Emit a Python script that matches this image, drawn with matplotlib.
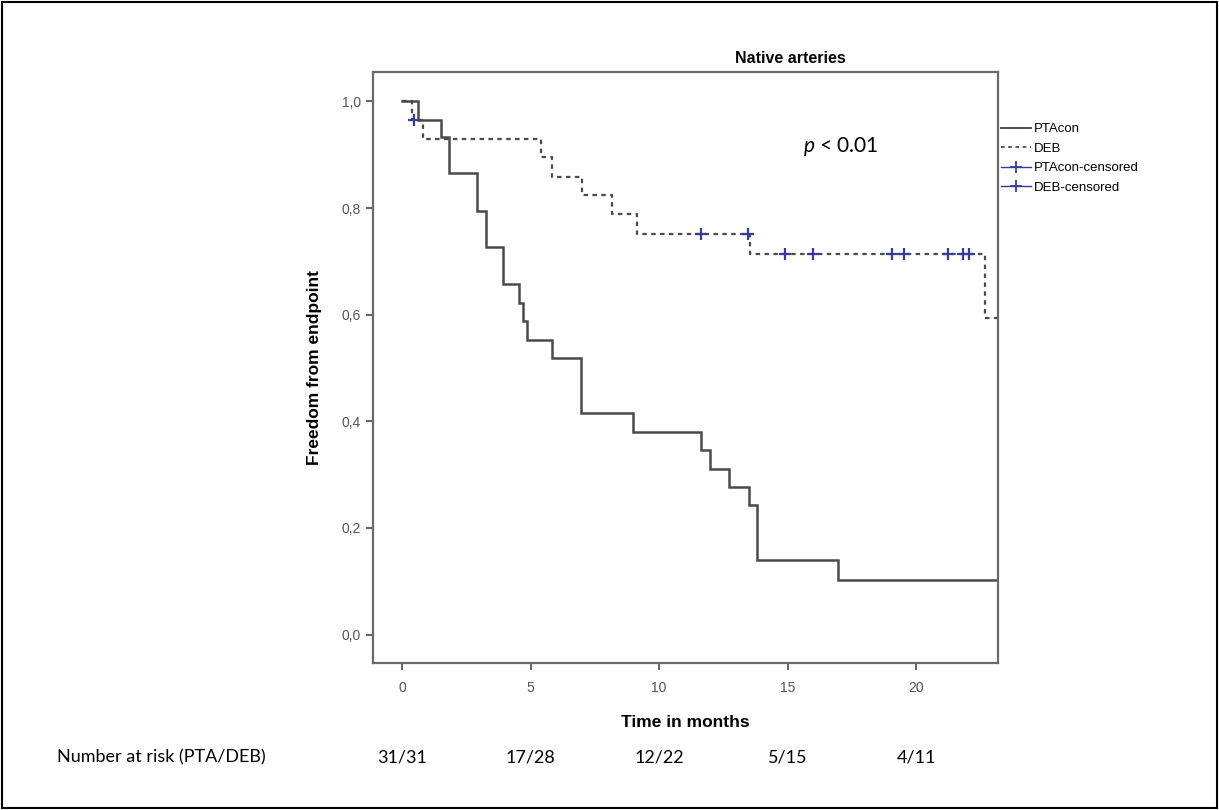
import numpy as np
import matplotlib
matplotlib.use("Agg")
import matplotlib.pyplot as plt
from matplotlib.lines import Line2D
from matplotlib.patches import Rectangle
from matplotlib.transforms import blended_transform_factory

# event times (months) and survival right after each drop
pta_t = [0.62, 1.52, 1.83, 2.93, 3.27, 3.94, 4.55, 4.72, 4.85, 5.82, 6.95, 9.0,
         11.63, 12.0, 12.72, 13.5, 13.8, 16.98]
pta_s = [0.966, 0.933, 0.866, 0.794, 0.727, 0.657, 0.622, 0.588, 0.553, 0.519,
         0.415, 0.380, 0.347, 0.311, 0.277, 0.243, 0.139, 0.103]

deb_t = [0.40, 0.83, 5.41, 5.82, 7.02, 8.18, 9.16, 13.54, 22.68]
deb_s = [0.966, 0.930, 0.896, 0.859, 0.824, 0.788, 0.752, 0.713, 0.593]
deb_cens = [0.45, 11.62, 13.44, 14.9, 16.0, 19.08, 19.51, 21.26, 21.84, 22.07]

risk_months = [0, 5, 10, 15, 20]
risk_labels = ["31/31", "17/28", "12/22", "5/15", "4/11"]

x_end = 23.2

plt.rcParams['font.family'] = ['Liberation Sans', 'DejaVu Sans']
plt.rcParams['mathtext.fontset'] = 'custom'
plt.rcParams['mathtext.it'] = 'Lato:italic'
plt.rcParams['mathtext.rm'] = 'Lato'


def km_steps(t, s, end):
    xs = [0.0]
    ys = [1.0]
    for ti, si in zip(t, s):
        xs.append(ti)
        ys.append(si)
    xs.append(end)
    ys.append(ys[-1])
    return xs, ys


def km_value(t, s, x):
    v = 1.0
    for ti, si in zip(t, s):
        if x >= ti:
            v = si
    return v


fig = plt.figure(figsize=(12.19, 8.10), dpi=100)
ax = fig.add_axes([0.306, 0.181, 0.513, 0.730])

line_col = '#4a4a4a'
cens_col = '#3a3a9a'

xs, ys = km_steps(pta_t, pta_s, x_end)
ax.step(xs, ys, where='post', color=line_col, lw=1.8, solid_joinstyle='miter')
xs, ys = km_steps(deb_t, deb_s, x_end)
ax.step(xs, ys, where='post', color=line_col, lw=1.6, ls=(0, (2, 2)))
cy = [km_value(deb_t, deb_s, c) for c in deb_cens]
ax.plot(deb_cens, cy, ls='none', marker='+', ms=9, mew=1.6, color=cens_col)

ax.set_xlim(-1.13, x_end)
ax.set_ylim(-0.054, 1.055)
ax.set_xticks([0, 5, 10, 15, 20])
ax.set_yticks([0, 0.2, 0.4, 0.6, 0.8, 1.0])
ax.set_yticklabels(["0,0", "0,2", "0,4", "0,6", "0,8", "1,0"])
ax.tick_params(colors='#555555', labelsize=10, length=5, width=1.3, direction='out')
ax.tick_params(axis='x', pad=8)
for sp in ax.spines.values():
    sp.set_color('#6a6a6a')
    sp.set_linewidth(1.6)

ax.set_xlabel("Time in months", fontsize=12.5, fontweight='bold', labelpad=14)
ax.set_ylabel("Freedom from endpoint", fontsize=12.5, fontweight='bold', labelpad=14)

fig.text(0.648, 0.928, "Native arteries", fontsize=11.5, fontweight='bold',
         ha='center', va='center')

ax.text(0.659, 0.819, r"$\it{p}$ < 0.01", transform=fig.transFigure,
        fontsize=15, family='Lato', va='center', ha='left')

handles = [
    Line2D([], [], color=line_col, lw=1.4),
    Line2D([], [], color=line_col, lw=1.3, ls=(0, (2, 2))),
    Line2D([], [], color=cens_col, lw=1.0, marker='+', ms=9, mew=1.3),
    Line2D([], [], color=cens_col, lw=1.0, marker='+', ms=9, mew=1.3),
]
labels = ["PTAcon", "DEB", "PTAcon-censored", "DEB-censored"]
fig.legend(handles, labels, loc='upper left', bbox_to_anchor=(0.821, 0.848),
           frameon=False, fontsize=9.5, handlelength=2.3, handletextpad=0.2,
           labelspacing=0.55, borderaxespad=0, borderpad=0)

trans = blended_transform_factory(ax.transData, fig.transFigure)
for m, lab in zip(risk_months, risk_labels):
    ax.text(m, 0.065, lab, transform=trans, ha='center', va='center',
            fontsize=13, family='Lato')
fig.text(0.047, 0.065, "Number at risk (PTA/DEB)", ha='left', va='center',
         fontsize=13, family='Lato')

fig.patches.append(Rectangle((0.002, 0.002), 0.996, 0.996, transform=fig.transFigure,
                             fill=False, edgecolor='black', lw=1.5))

fig.savefig("out.png", dpi=100)
